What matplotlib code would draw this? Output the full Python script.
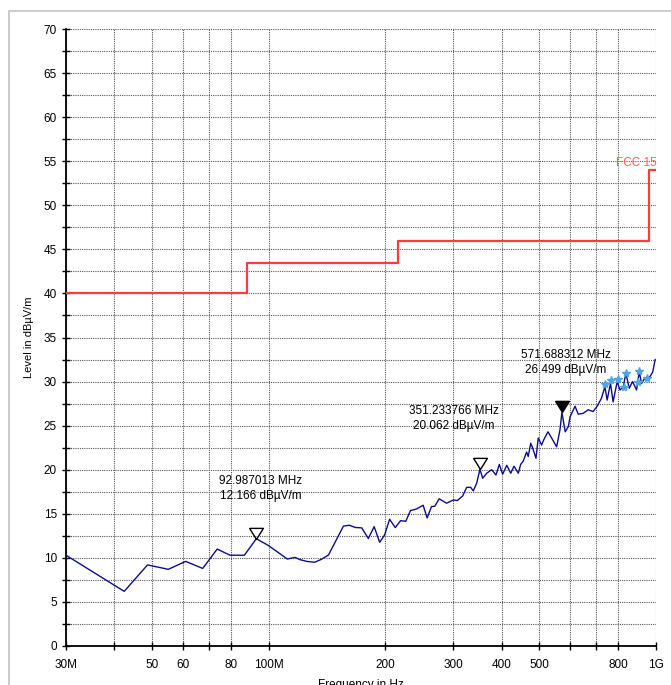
import numpy as np
import matplotlib
matplotlib.use("Agg")
from matplotlib import pyplot as plt
from matplotlib.patches import Rectangle

plt.rcParams['font.family'] = ['Liberation Sans', 'DejaVu Sans']

# measured trace (MHz, dBuV/m)
freq_mhz = [30.0, 42.4, 48.7, 55.1, 61.1, 67.6, 73.7, 79.5, 86.6, 92.99,
            99.9, 111.8, 117.0, 120.5, 125.4, 131.5, 137.0, 142.8, 156.0, 161.5,
            167.4, 174.0, 180.9, 187.3, 193.5, 199.3, 205.3, 212.3, 219.1, 226.0,
            232.4, 241.0, 250.6, 256.6, 263.3, 268.6, 275.6, 288.0, 300.0, 307.0,
            317.0, 324.6, 332.4, 337.6, 344.5, 351.23, 357.0, 365.6, 376.6, 386.3,
            394.0, 402.0, 412.0, 421.8, 430.0, 441.2, 447.4, 454.5, 463.5, 468.0,
            475.0, 481.0, 490.0, 496.6, 506.6, 513.3, 526.2, 541.0, 554.0, 565.0,
            571.69, 583.0, 594.0, 600.0, 618.0, 630.0, 649.0, 668.0, 688.0, 705.0,
            723.0, 738.0, 748.0, 763.0, 775.0, 794.0, 807.0, 823.0, 836.0, 853.0,
            870.0, 891.0, 905.0, 918.0, 936.0, 949.0, 966.0, 981.0, 995.0]
level = [10.3, 6.2, 9.2, 8.7, 9.6, 8.8, 11.0, 10.3, 10.3, 12.17,
         11.4, 9.87, 10.05, 9.8, 9.6, 9.5, 9.84, 10.33, 13.6, 13.7,
         13.45, 13.4, 12.2, 13.54, 11.77, 12.6, 14.38, 13.43, 14.22, 14.15,
         15.36, 15.55, 15.97, 14.53, 15.81, 15.86, 16.7, 16.2, 16.57, 16.5,
         17.03, 18.0, 18.0, 17.6, 18.47, 20.06, 19.03, 19.6, 20.0, 19.4,
         20.6, 19.5, 20.5, 19.6, 20.4, 19.6, 20.6, 21.0, 22.0, 21.5,
         23.0, 22.4, 21.3, 23.6, 22.8, 23.4, 24.3, 23.4, 22.6, 24.5,
         26.5, 24.3, 24.9, 26.0, 27.2, 26.3, 26.4, 26.8, 26.6, 27.2,
         28.1, 29.4, 27.9, 29.8, 27.7, 30.0, 29.05, 29.4, 30.95, 29.25,
         30.0, 29.05, 31.1, 29.8, 30.4, 30.2, 30.6, 31.1, 32.5]

# FCC 15 limit line
limit_freq = [30, 88, 88, 216, 216, 960, 960, 1000]
limit_level = [40, 40, 43.5, 43.5, 46, 46, 54, 54]

# peak markers
peak_freq = [92.987013, 351.233766, 571.688312]
peak_level = [12.166, 20.062, 26.499]
peak_filled = [False, False, True]
peak_text_x = [95.6, 301.0, 586.0]
peak_text_y = [17.9, 25.8, 32.2]

# final measurement stars
star_freq = [738, 765, 798, 826, 836, 898, 902, 949]
star_level = [29.7, 30.2, 30.3, 29.4, 30.95, 29.9, 31.25, 30.4]

xticks = [30, 40, 50, 60, 70, 80, 100, 200, 300, 400, 500, 600, 700, 800, 1000]
xticklabels = ['30M', '', '50', '60', '', '80', '100M', '200', '300', '400',
               '500', '', '', '800', '1G']

fig = plt.figure(figsize=(6.71, 6.85), dpi=100)
ax = fig.add_axes([66 / 671, 39 / 685, 590 / 671, 617 / 685])
fig.add_artist(Rectangle((9 / 671, -0.1), 2.0, (685 - 11) / 685 + 0.1,
                         transform=fig.transFigure, fill=False,
                         edgecolor='#c4c4c4', lw=1.2))

ax.set_xscale('log')
ax.set_xlim(30, 1000)
ax.set_ylim(0, 70)

ax.plot(limit_freq, limit_level, color='#ff3b3b', lw=1.6, zorder=3)
ax.text(1003, 54.1, 'FCC 15', color='#ff6060', fontsize=8.5,
        ha='right', va='bottom', zorder=4)

ax.plot(freq_mhz, level, color='#0d0d8c', lw=1.0, zorder=4)
ax.plot(star_freq, star_level, ls='none', marker='*', ms=6,
        color='#4fa6e3', zorder=5)

tri = [(-0.62, 1.0), (0.62, 1.0), (0.0, 0.0), (-0.62, 1.0)]
for f, l, filled, tx, ty in zip(peak_freq, peak_level, peak_filled,
                                peak_text_x, peak_text_y):
    ax.plot([f], [l], ls='none', marker=tri, ms=16, mew=1.0,
            mec='black', mfc='black' if filled else 'none', zorder=6)
    ax.text(tx, ty, f'{f:.6f} MHz\n{l:.3f} dB\u00b5V/m', fontsize=8.5,
            ha='center', va='center', multialignment='center',
            linespacing=1.3, zorder=6)

ax.set_xticks(xticks)
ax.set_xticklabels(xticklabels)
ax.xaxis.set_minor_locator(matplotlib.ticker.NullLocator())
ax.set_yticks(np.arange(0, 71, 5))
ax.set_yticks(np.arange(0, 71, 2.5), minor=True)

ax.grid(True, which='both', color='#555555', ls=(0, (1, 1)), lw=0.8)
ax.tick_params(which='both', direction='inout', length=6, width=1,
               labelsize=8.5, color='black')
ax.tick_params(axis='x', pad=6)

for s in ['top', 'right']:
    ax.spines[s].set_visible(False)
for s in ['left', 'bottom']:
    ax.spines[s].set_linewidth(1.3)

ax.set_xlabel('Frequency in Hz', fontsize=8.5, labelpad=6)
ax.set_ylabel('Level in dB\u00b5V/m', fontsize=8, labelpad=7)

fig.savefig('out.png', dpi=100)
